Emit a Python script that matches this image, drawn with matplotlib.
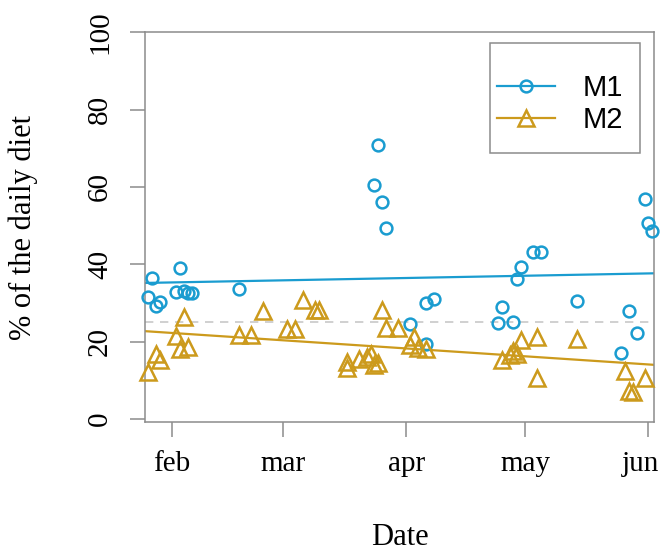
import numpy as np
import pandas as pd
import matplotlib
matplotlib.use("Agg")
import matplotlib.pyplot as plt
import matplotlib.dates as mdates
import matplotlib.transforms as mtransforms
from matplotlib.patches import Rectangle

# M1 observations (circles)
m1_dates = ["2019-01-27", "2019-01-26", "2019-01-28", "2019-01-29", "2019-02-03",
            "2019-02-02", "2019-02-04", "2019-02-05", "2019-02-06", "2019-02-18",
            "2019-03-25", "2019-03-24", "2019-03-26", "2019-03-27", "2019-04-06",
            "2019-04-08", "2019-04-02", "2019-04-06", "2019-04-30", "2019-04-29",
            "2019-04-25", "2019-04-24", "2019-04-28", "2019-05-03", "2019-05-05",
            "2019-05-14", "2019-05-31", "2019-06-01", "2019-06-02", "2019-05-27",
            "2019-05-29", "2019-05-25"]
m1_vals = [36.4, 31.5, 29.1, 30.2, 39.0, 32.8, 33.0, 32.6, 32.5, 33.5,
           70.7, 60.6, 56.2, 49.3, 30.0, 31.1, 24.5, 19.5, 39.3, 36.1,
           28.9, 24.7, 25.0, 43.1, 43.1, 30.5, 56.9, 50.7, 48.7, 27.9,
           22.2, 17.1]

# M2 observations (triangles)
m2_dates = ["2019-02-04", "2019-02-02", "2019-02-03", "2019-02-05", "2019-01-28",
            "2019-01-29", "2019-01-26", "2019-02-18", "2019-02-21", "2019-02-24",
            "2019-03-06", "2019-03-09", "2019-03-10", "2019-03-02", "2019-03-04",
            "2019-03-26", "2019-03-27", "2019-03-30", "2019-03-17", "2019-03-17",
            "2019-03-20", "2019-03-22", "2019-03-23", "2019-03-24", "2019-03-25",
            "2019-04-03", "2019-04-02", "2019-04-06", "2019-04-04", "2019-04-30",
            "2019-05-04", "2019-04-28", "2019-04-29", "2019-04-27", "2019-04-25",
            "2019-05-04", "2019-05-14", "2019-05-26", "2019-05-31", "2019-05-27",
            "2019-05-28"]
m2_vals = [26.4, 21.4, 18.0, 18.5, 16.7, 15.2, 12.2, 21.6, 21.6, 27.9,
           30.7, 28.3, 28.3, 23.4, 23.4, 28.3, 23.5, 23.5, 14.8, 13.1,
           15.6, 16.1, 16.7, 13.9, 14.4, 21.2, 19.1, 18.2, 18.3, 20.5,
           21.1, 17.6, 16.9, 16.5, 15.2, 10.5, 20.8, 12.4, 10.5, 7.3,
           6.9]

month_ticks = ["2019-02-01", "2019-03-01", "2019-04-01", "2019-05-01", "2019-06-01"]
month_labels = ["feb", "mar", "apr", "may", "jun"]
ref_level = 25

blue = "#1a9cd0"
gold = "#cc9a1c"
grey = "#8c8c8c"

x1 = mdates.date2num(pd.to_datetime(m1_dates))
x2 = mdates.date2num(pd.to_datetime(m2_dates))
y1 = np.array(m1_vals)
y2 = np.array(m2_vals)

fig = plt.figure(figsize=(6.62, 5.54), dpi=100)
ax = fig.add_axes([0.219, 0.238, 0.769, 0.704])

x0 = mdates.date2num(pd.Timestamp("2019-02-01"))
xlim = (x0 - 6.8, x0 + 121.4)
ax.set_xlim(xlim)
ax.set_ylim(-0.8, 100)

ax.axhline(ref_level, color="#c8c8c8", lw=1.2, ls=(0, (5, 4)), zorder=1)

# linear trends
xx = np.array(xlim)
c1 = np.polyfit(x1, y1, 1)
c2 = np.polyfit(x2, y2, 1)
ax.plot(xx, np.polyval(c1, xx), color=blue, lw=1.6, zorder=2)
ax.plot(xx, np.polyval(c2, xx), color=gold, lw=1.6, zorder=2)

ax.plot(x1, y1, ls="none", marker="o", ms=8.5, mfc="none", mec=blue, mew=1.8,
        clip_on=False, zorder=3)
ax.plot(x2, y2, ls="none", marker="^", ms=11, mfc="none", mec=gold, mew=1.8,
        clip_on=False, zorder=3)

serif = ["Liberation Serif", "DejaVu Serif"]
ax.set_yticks(np.arange(0, 101, 20))
ax.set_yticklabels([str(v) for v in range(0, 101, 20)], family=serif,
                   fontsize=21, rotation=90, va="center")
ax.set_xticks(mdates.date2num(pd.to_datetime(month_ticks)))
ax.set_xticklabels(month_labels, family=serif, fontsize=21)
ax.tick_params(axis="both", colors=grey, length=11, width=1.1, labelcolor="black")
ax.tick_params(axis="y", pad=12)
ax.tick_params(axis="x", pad=10)
# keep the last month label inside the figure
last = ax.get_xticklabels()[-1]
last.set_transform(last.get_transform() +
                   mtransforms.ScaledTranslation(-6 / 72, 0, fig.dpi_scale_trans))

for s in ax.spines.values():
    s.set_color(grey)
    s.set_linewidth(1.1)

ax.set_xlabel("Date", family=serif, fontsize=22)
ax.set_ylabel("% of the daily diet", family=serif, fontsize=22)
ax.xaxis.set_label_coords(0.5, -0.258)
ax.yaxis.set_label_coords(-0.21, 0.5)

# legend
ax.add_patch(Rectangle((0.678, 0.690), 0.294, 0.282, transform=ax.transAxes,
                       fill=False, ec=grey, lw=1.1, zorder=4))
h1, = ax.plot([], [], color=blue, lw=1.6, marker="o", ms=8.5, mfc="none", mew=1.8)
h2, = ax.plot([], [], color=gold, lw=1.6, marker="^", ms=11, mfc="none", mew=1.8)
ax.legend([h1, h2], ["M1", "M2"], loc="center", bbox_to_anchor=(0.815, 0.815),
          frameon=False, handlelength=2.0, handletextpad=0.95, labelspacing=0.15,
          prop={"family": "Liberation Sans", "size": 21})

fig.savefig("out.png", dpi=100)
